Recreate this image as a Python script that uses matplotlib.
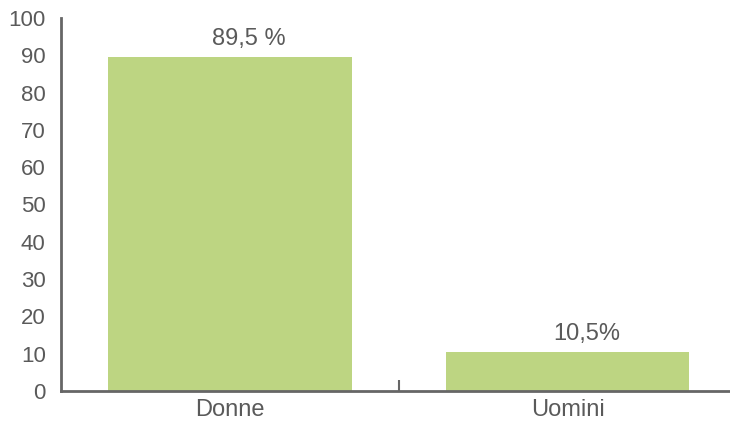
import matplotlib.pyplot as plt
from matplotlib.ticker import FixedLocator

categories = ['Donne', 'Uomini']
values = [89.5, 10.5]
labels = ['89,5 %', '10,5%']

plt.rcParams['font.family'] = ['Liberation Sans', 'DejaVu Sans']
grey = '#666666'
green = '#bdd582'
text_grey = '#5a5a5a'

fig = plt.figure(figsize=(7.3, 4.22), dpi=100)
ax = fig.add_axes([61 / 730, 1 - 391 / 422, (730 - 61) / 730, (391 - 18) / 422])

x = list(range(len(categories)))
ax.bar(x, values, width=0.72, color=green, zorder=2)
for xi, v, lab in zip(x, values, labels):
    ax.annotate(lab, (xi + 0.056, v), xytext=(0, 5), textcoords='offset points',
                ha='center', va='bottom', fontsize=17, color=text_grey)

ax.set_xlim(-0.5, 1.48)
ax.set_ylim(0, 100)
ax.set_yticks(range(0, 101, 10))
ax.set_xticks(x)
ax.set_xticklabels(categories)
ax.xaxis.set_minor_locator(FixedLocator([0.5]))

ax.tick_params(axis='y', length=0, labelsize=16, labelcolor=text_grey, pad=11)
ax.tick_params(axis='x', which='major', length=0, labelsize=17, labelcolor=text_grey, pad=6)
ax.tick_params(axis='x', which='minor', direction='in', length=8, width=1.5, color=grey)

for s in ['top', 'right']:
    ax.spines[s].set_visible(False)
for s in ['left', 'bottom']:
    ax.spines[s].set_color(grey)
    ax.spines[s].set_linewidth(2)

fig.savefig('out.png', dpi=100)
